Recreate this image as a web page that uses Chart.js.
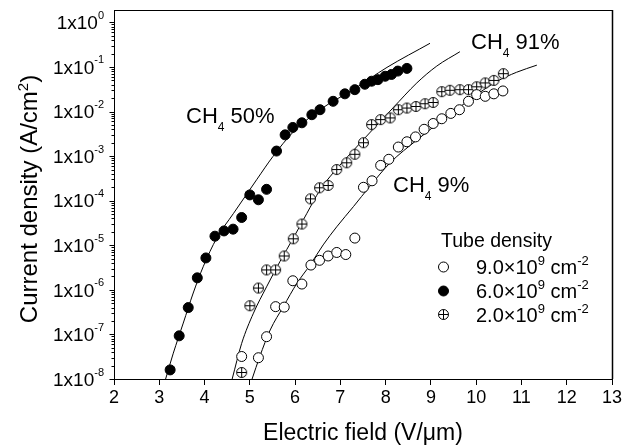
<!DOCTYPE html>
<html>
<head>
<meta charset="utf-8">
<script src="https://cdn.jsdelivr.net/npm/chart.js@4.4.1/dist/chart.umd.min.js"></script>
<style>
html,body{margin:0;padding:0;background:#ffffff;}
#box{position:relative;width:631px;height:447px;}
canvas{display:block;}
</style>
</head>
<body>
<div id="box"><canvas id="chart" width="631" height="447"></canvas></div>
<script>
// ---------------- data ----------------
const xTickValues = [2, 3, 4, 5, 6, 7, 8, 9, 10, 11, 12, 13];
const yTickExponents = [0, -1, -2, -3, -4, -5, -6, -7, -8];
const yTickMantissa = '1x10';

const xTitle = 'Electric field (V/\u03bcm)';
const yTitleMain = 'Current density (A/cm';
const yTitleSup = '2';
const yTitleEnd = ')';

const legendTitle = 'Tube density';
const legendMantissas = ['9.0\u00d710', '6.0\u00d710', '2.0\u00d710'];
const legendExp = '9';
const legendUnit = ' cm';
const legendUnitExp = '-2';

// 9.0e9 cm^-2 (open circles)
const field9e9 = [4.82, 5.19, 5.37, 5.57, 5.76, 5.95, 6.15, 6.35, 6.54, 6.73, 6.92, 7.12, 7.32, 7.51, 7.70, 7.89, 8.07, 8.28, 8.47, 8.66, 8.85, 9.05, 9.24, 9.44, 9.63, 9.83, 10.01, 10.20, 10.39, 10.59];
const current9e9 = [3.2e-8, 3.0e-8, 8.9e-8, 4.2e-7, 4.1e-7, 1.6e-6, 1.35e-6, 3.6e-6, 4.6e-6, 5.75e-6, 6.9e-6, 6.2e-6, 1.45e-5, 2.0e-4, 2.8e-4, 6.2e-4, 8.5e-4, 1.6e-3, 2.1e-3, 2.7e-3, 4.0e-3, 5.4e-3, 6.9e-3, 9.1e-3, 1.1e-2, 1.7e-2, 2.4e-2, 2.2e-2, 2.5e-2, 2.9e-2];

// 6.0e9 cm^-2 (filled circles)
const field6e9 = [3.24, 3.44, 3.64, 3.84, 4.03, 4.23, 4.43, 4.63, 4.82, 5.00, 5.19, 5.37, 5.59, 5.78, 5.95, 6.15, 6.37, 6.55, 6.84, 7.10, 7.32, 7.54, 7.69, 7.83, 7.99, 8.13, 8.27, 8.47];
const current6e9 = [1.6e-8, 9.3e-8, 4.0e-7, 1.86e-6, 5.2e-6, 1.6e-5, 2.1e-5, 2.3e-5, 4.2e-5, 1.35e-4, 1.05e-4, 1.8e-4, 1.3e-3, 3.0e-3, 4.4e-3, 5.6e-3, 8.5e-3, 1.1e-2, 1.7e-2, 2.5e-2, 3.1e-2, 4.1e-2, 4.8e-2, 5.2e-2, 6.2e-2, 6.8e-2, 8.1e-2, 9.3e-2];

// 2.0e9 cm^-2 (crossed circles)
const field2e9 = [4.82, 5.00, 5.19, 5.37, 5.57, 5.76, 5.96, 6.15, 6.34, 6.54, 6.73, 6.92, 7.14, 7.32, 7.51, 7.69, 7.89, 8.10, 8.28, 8.47, 8.67, 8.87, 9.05, 9.24, 9.42, 9.64, 9.83, 10.01, 10.20, 10.39, 10.60];
const current2e9 = [1.4e-8, 4.4e-7, 1.1e-6, 2.8e-6, 2.8e-6, 5.75e-6, 1.4e-5, 3.0e-5, 1.1e-4, 1.95e-4, 2.2e-4, 5.0e-4, 7.1e-4, 1.1e-3, 2.0e-3, 5.1e-3, 6.6e-3, 7.2e-3, 1.1e-2, 1.2e-2, 1.3e-2, 1.5e-2, 1.6e-2, 2.8e-2, 3.0e-2, 3.1e-2, 3.1e-2, 3.6e-2, 4.4e-2, 5.0e-2, 7.1e-2];

// fitted curves
const fit50Field = [3.14, 3.31, 3.53, 3.75, 3.97, 4.27, 4.64, 5.15, 5.51, 5.95, 6.55, 7.28, 8.03, 8.98];
const fit50Current = [1.0e-8, 3.8e-8, 1.8e-7, 8.5e-7, 3.3e-6, 1.45e-5, 5.2e-5, 2.95e-4, 9.8e-4, 3.4e-3, 1.1e-2, 3.1e-2, 9.8e-2, 0.34];

const fit91Field = [4.61, 4.82, 5.08, 5.37, 5.67, 5.96, 6.26, 6.55, 6.84, 7.28, 7.72, 8.16, 8.69, 9.13, 9.64];
const fit91Current = [1.0e-8, 6.3e-8, 3.0e-7, 1.17e-6, 4.4e-6, 1.45e-5, 5.2e-5, 1.74e-4, 4.2e-4, 1.32e-3, 4.0e-3, 1.2e-2, 4.4e-2, 0.105, 0.22];

const fit9Field = [5.05, 5.22, 5.45, 5.74, 6.04, 6.33, 6.62, 6.92, 7.29, 7.65, 8.10, 8.69, 9.27, 9.86, 10.45, 10.89, 11.34];
const fit9Current = [1.0e-8, 3.2e-8, 1.26e-7, 4.2e-7, 1.4e-6, 3.6e-6, 1.02e-5, 2.6e-5, 7.4e-5, 2.1e-4, 7.1e-4, 2.3e-3, 6.6e-3, 1.86e-2, 4.7e-2, 7.6e-2, 0.11];

const curveLabels = [
  {main: 'CH', sub: '4', rest: ' 50%', px: 186, py: 123},
  {main: 'CH', sub: '4', rest: ' 91%', px: 471, py: 49},
  {main: 'CH', sub: '4', rest: ' 9%', px: 393, py: 192}
];

// ---------------- rendering ----------------
const FAMILY = '"Liberation Sans", Arial, Helvetica, sans-serif';
Chart.defaults.font.family = FAMILY;
Chart.defaults.color = '#000';

function xy(xs, ys) { return xs.map((v, i) => ({x: v, y: ys[i]})); }

function makeCrossedCircle(r) {
  const s = Math.ceil(2 * r + 3);
  const c = document.createElement('canvas');
  c.width = s; c.height = s;
  const g = c.getContext('2d');
  const m = s / 2;
  g.fillStyle = '#fff'; g.strokeStyle = '#000'; g.lineWidth = 1;
  g.beginPath(); g.arc(m, m, r, 0, 2 * Math.PI); g.fill(); g.stroke();
  g.beginPath();
  g.moveTo(m - r, m); g.lineTo(m + r, m);
  g.moveTo(m, m - r); g.lineTo(m, m + r);
  g.stroke();
  return c;
}
const R = 5;
const crossed = makeCrossedCircle(R);

function drawRuns(ctx, x, y, runs, align) {
  let total = 0;
  runs.forEach(r => { ctx.font = r.size + 'px ' + FAMILY; r.w = ctx.measureText(r.text).width; total += r.w; });
  let cx = align === 'right' ? x - total : (align === 'center' ? x - total / 2 : x);
  ctx.textAlign = 'left';
  ctx.textBaseline = 'alphabetic';
  runs.forEach(r => { ctx.font = r.size + 'px ' + FAMILY; ctx.fillText(r.text, cx, y + (r.dy || 0)); cx += r.w; });
}

const decor = {
  id: 'decor',
  afterDraw(chart) {
    const {ctx, chartArea: a, scales} = chart;
    const ys = scales.y;
    ctx.save();
    ctx.strokeStyle = '#000';
    ctx.fillStyle = '#000';
    // frame (top, right)
    ctx.lineWidth = 1;
    ctx.beginPath();
    ctx.moveTo(a.left, Math.round(a.top) + 0.5);
    ctx.lineTo(Math.round(a.right) + 0.5, Math.round(a.top) + 0.5);
    ctx.stroke();
    ctx.lineWidth = 1.5;
    ctx.beginPath();
    ctx.moveTo(Math.round(a.right) + 0.5, a.top);
    ctx.lineTo(Math.round(a.right) + 0.5, a.bottom);
    ctx.stroke();
    // y ticks
    ctx.lineWidth = 1;
    const ax = Math.round(a.left) + 0.5;
    ctx.beginPath();
    yTickExponents.forEach(e => {
      const p = Math.round(ys.getPixelForValue(Math.pow(10, e))) + 0.5;
      ctx.moveTo(ax - 5, p); ctx.lineTo(ax, p);
      for (let m = 2; m <= 9; m++) {
        const v = m * Math.pow(10, e);
        if (v > ys.max) break;
        const q = Math.round(ys.getPixelForValue(v)) + 0.5;
        ctx.moveTo(ax - 3, q); ctx.lineTo(ax, q);
      }
    });
    ctx.stroke();
    // y tick labels
    yTickExponents.forEach(e => {
      const p = ys.getPixelForValue(Math.pow(10, e));
      drawRuns(ctx, 104, p + 6.7, [
        {text: yTickMantissa, size: 19},
        {text: String(e), size: 11, dy: -10.2}
      ], 'right');
    });
    // y title
    ctx.save();
    ctx.translate(37, 199);
    ctx.rotate(-Math.PI / 2);
    drawRuns(ctx, 0, 0, [
      {text: yTitleMain, size: 24},
      {text: yTitleSup, size: 15, dy: -9.5},
      {text: yTitleEnd, size: 24}
    ], 'center');
    ctx.restore();
    // curve labels
    curveLabels.forEach(l => {
      drawRuns(ctx, l.px, l.py, [
        {text: l.main, size: 22},
        {text: l.sub, size: 12, dy: 8},
        {text: l.rest, size: 22}
      ], 'left');
    });
    // legend
    drawRuns(ctx, 441, 247, [{text: legendTitle, size: 19.5}], 'left');
    const rows = [274, 298, 321.5];
    const ds = chart.data.datasets;
    rows.forEach((by, i) => {
      const d = ds[i];
      const cx = 443.5, cy = by - 7;
      if (d.pointStyle === 'circle') {
        ctx.beginPath();
        ctx.arc(cx, cy, R, 0, 2 * Math.PI);
        ctx.fillStyle = d.backgroundColor; ctx.fill();
        ctx.lineWidth = 1; ctx.strokeStyle = d.borderColor; ctx.stroke();
      } else {
        ctx.drawImage(d.pointStyle, cx - d.pointStyle.width / 2, cy - d.pointStyle.height / 2);
      }
      ctx.fillStyle = '#000';
      drawRuns(ctx, 476, by, [
        {text: legendMantissas[i], size: 20},
        {text: legendExp, size: 13, dy: -9},
        {text: legendUnit, size: 20},
        {text: legendUnitExp, size: 13, dy: -9}
      ], 'left');
    });
    ctx.restore();
  }
};

const lineStyle = {type: 'line', showLine: true, pointRadius: 0, borderColor: '#000', borderWidth: 1,
  fill: false, cubicInterpolationMode: 'monotone', tension: 0.4};

new Chart(document.getElementById('chart'), {
  type: 'scatter',
  data: {
    datasets: [
      {label: '9.0e9', data: xy(field9e9, current9e9), pointStyle: 'circle', pointRadius: R,
        backgroundColor: '#fff', borderColor: '#000', borderWidth: 1, showLine: false},
      {label: '6.0e9', data: xy(field6e9, current6e9), pointStyle: 'circle', pointRadius: R,
        backgroundColor: '#000', borderColor: '#000', borderWidth: 1, showLine: false},
      {label: '2.0e9', data: xy(field2e9, current2e9), pointStyle: crossed, pointRadius: R,
        backgroundColor: '#fff', borderColor: '#000', borderWidth: 1, showLine: false},
      Object.assign({label: 'CH4 50%', data: xy(fit50Field, fit50Current)}, lineStyle),
      Object.assign({label: 'CH4 91%', data: xy(fit91Field, fit91Current)}, lineStyle),
      Object.assign({label: 'CH4 9%', data: xy(fit9Field, fit9Current)}, lineStyle)
    ]
  },
  options: {
    responsive: false,
    animation: false,
    devicePixelRatio: 1,
    layout: {padding: {top: 10, right: 19, left: 0, bottom: 0}},
    plugins: {legend: {display: false}, tooltip: {enabled: false}},
    scales: {
      x: {
        type: 'linear', min: 2, max: 13, offset: false,
        afterBuildTicks: s => { s.ticks = xTickValues.map(v => ({value: v})); },
        ticks: {font: {size: 18}, color: '#000', padding: 2, maxRotation: 0, autoSkip: false},
        grid: {display: true, drawOnChartArea: false, drawTicks: true, tickLength: 6, color: '#000', lineWidth: 1},
        border: {display: true, color: '#000', width: 1},
        title: {display: true, text: xTitle, font: {size: 23}, color: '#000', padding: {top: 0, bottom: 0}},
        afterFit: s => { s.height = 68; }
      },
      y: {
        type: 'logarithmic', min: 1e-8, max: 1.9,
        ticks: {display: false},
        grid: {display: false},
        border: {display: true, color: '#000', width: 1},
        afterFit: s => { s.width = 114; }
      }
    }
  },
  plugins: [decor]
});
</script>
</body>
</html>
